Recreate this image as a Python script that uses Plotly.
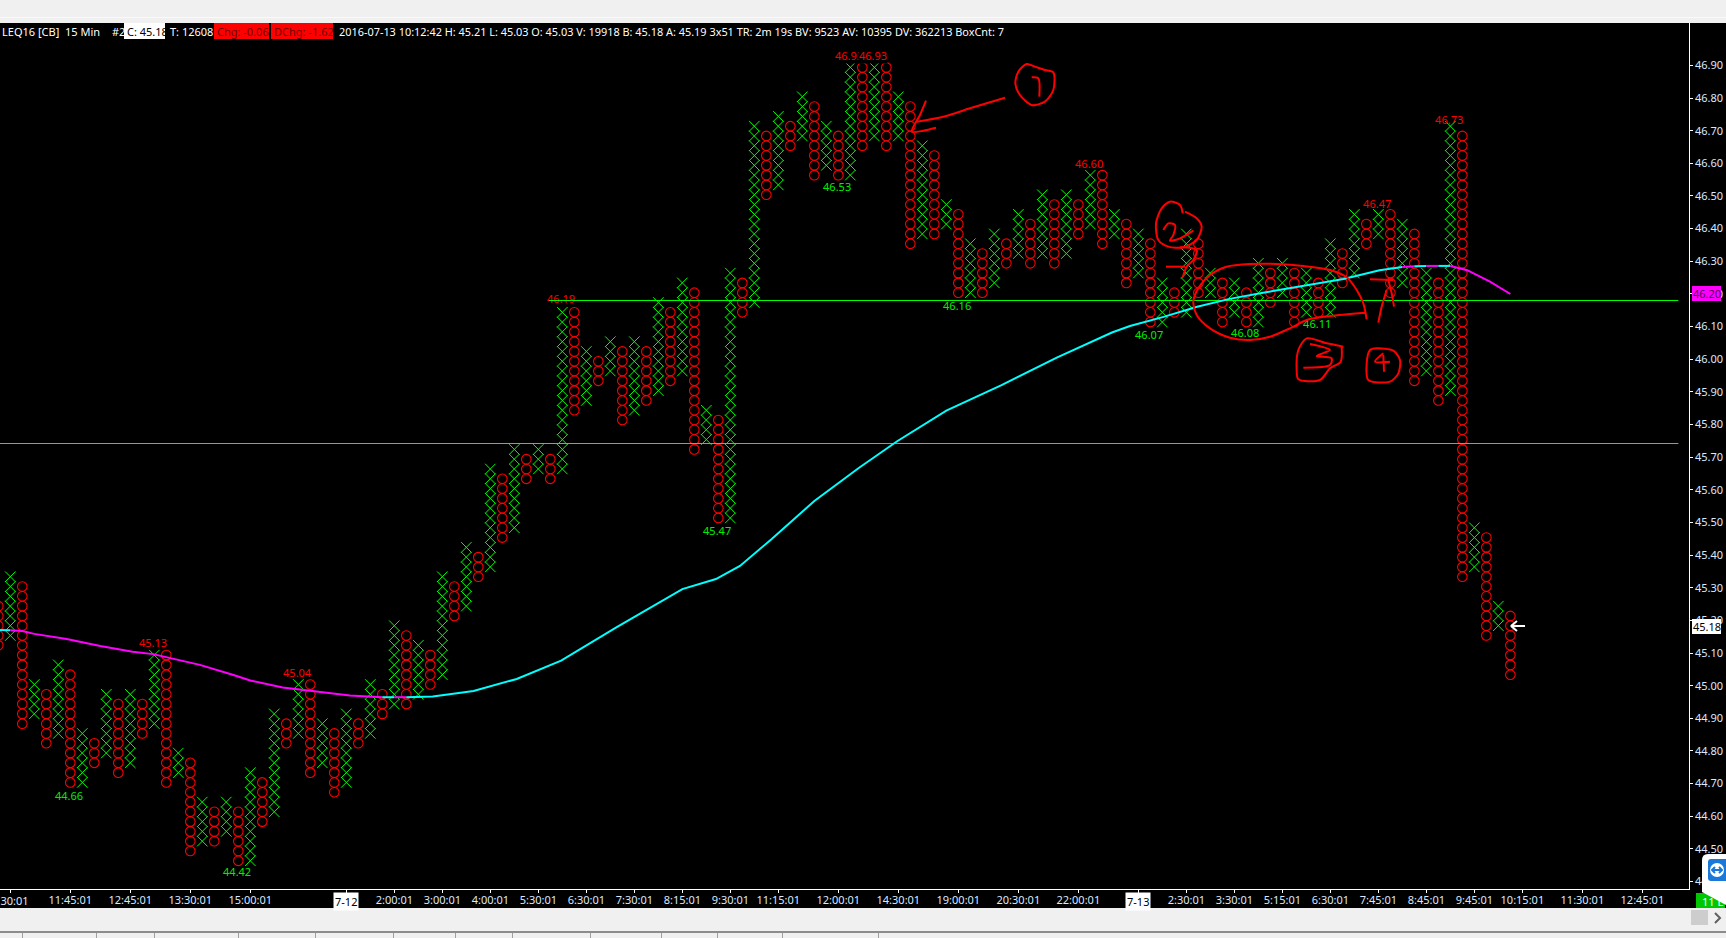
import plotly.graph_objects as go

W, H = 1726, 938
BASE, BOX = 45.03, 0.03
SHIFT = 0.0037

# Point & figure columns, column number = list position - 1 (first column is partly off-screen)
col_top = [7,10,9,-1,-2,1,0,-6,-7,-2,-3,-2,-3,2,2,-8,-9,-13,-14,-13,-14,-10,-11,-4,-5,-1,-1,-5,-6,-4,-5,-1,-2,5,4,3,2,10,
           9,13,12,21,20,23,22,23,22,37,37,33,32,34,33,34,33,38,37,40,39,27,26,41,40,56,55,57,56,59,58,56,55,62,62,62,62,59,58,54,53,48,47,44,43,45,44,47,46,49,48,49,48,51,51,47,46,45,44,40,39,45,44,41,40,40,39,42,41,42,41,41,40,44,43,47,46,47,47,46,45,41,40,56,55,15,14,7,6]
col_bottom = [3,4,-5,-4,-7,-6,-11,-11,-9,-8,-10,-9,-6,-5,-11,-10,-18,-17,-17,-16,-19,-19,-15,-14,-7,-6,-10,-9,-12,-11,-7,-6,-4,-3,-3,-2,-1,0,
              6,7,10,11,14,15,20,21,20,21,27,28,30,31,26,27,28,29,30,31,23,24,16,16,37,38,49,50,54,55,51,52,51,51,54,55,54,55,44,45,45,46,39,39,39,40,42,43,42,43,42,43,45,46,44,45,40,41,36,36,37,37,39,39,36,37,36,36,38,39,36,37,37,37,40,41,44,45,39,40,30,31,28,29,10,11,4,5,0]
col_type = ["O" if i % 2 == 0 else "X" for i in range(len(col_top))]
assert len(col_top) == len(col_bottom) == 127, (len(col_top), len(col_bottom))

label_text = ["45.13","45.04","44.66","44.42","46.19","45.47","46.53","46.60","46.16","46.07","46.08","46.11","46.47","46.73"]
label_col = [12,24,5,19,46,59,69,90,79,95,103,109,114,120]
label_price = [45.127,45.035,44.659,44.426,46.182,45.471,46.524,46.595,46.16,46.07,46.077,46.105,46.47,46.73]
label_up = [1,1,0,0,1,0,0,1,0,0,0,0,1,1]
peak_text = ["46.93","46.93"]
peak_col = [70,72]
peak_price = [46.93,46.93]

ma_col = [-0.86,0,1,2,4.7,7.5,10.2,11.9,15.8,18.6,20,22.7,25.6,28.3,31,32,33,35.2,36.6,38.6,42.2,45.9,50.5,56,58.8,60.8,63.4,67,70.7,73.9,78,82.6,87.2,91.8,93.3,96.1,98.9,101.6,104.4,107.2,111.1,114.1,116,117,118,119,120,121.4,123.3,125]
ma_val = [45.167,45.166,45.164,45.155,45.139,45.118,45.100,45.093,45.060,45.029,45.012,44.991,44.978,44.966,44.961,44.961,44.961,44.963,44.970,44.980,45.017,45.073,45.175,45.292,45.323,45.363,45.444,45.562,45.663,45.745,45.839,45.917,46.001,46.078,46.098,46.126,46.157,46.181,46.200,46.218,46.242,46.269,46.279,46.281,46.282,46.282,46.282,46.269,46.234,46.196]
ma_break_col = [-0.86,0,31,32,33,116,117,118,119,120,125]
ma_break_color = ["#00ffff","#ff00ff","#00ffff","#ff00ff","#00ffff","#ff00ff","#00ffff","#ff00ff","#00ffff","#ff00ff"]

level_price = [46.1798,45.7418]
level_start = [44.9,-0.86]
level_end = 139.0

y_ticks = [44.4+0.1*i for i in range(26)]
x_tick_col = [0,5,10,15,20,28,32,36,40,44,48,52,56,60,64,69,74,79,84,89,94,98,102,106,110,114,118,122,126,131,136]
x_tick_text = ["","11:45:01","12:45:01","13:30:01","15:00:01","","2:00:01","3:00:01","4:00:01","5:30:01","6:30:01","7:30:01","8:15:01","9:30:01","11:15:01","12:00:01","14:30:01","19:00:01","20:30:01","22:00:01","","2:30:01","3:30:01","5:15:01","6:30:01","7:45:01","8:45:01","9:45:01","10:15:01","11:30:01","12:45:01"]
date_col = [28,94]
date_text = ["7-12","7-13"]

header_main = "2016-07-13 10:12:42 H: 45.21 L: 45.03 O: 45.03 V: 19918 B: 45.18 A: 45.19 3x51 TR: 2m 19s BV: 9523 AV: 10395 DV: 362213 BoxCnt: 7"

# Hand-drawn ink, reference pixels
def z4(pts): return [(730+x/3, 40+y/3) for x, y in pts]
def z5(pts): return [(1130+x/3, 190+y/3) for x, y in pts]
ink = [
    z4([(825,173),(720,205),(640,230),(560,245)]),
    z4([(588,182),(570,225),(545,275),(580,272),(618,263)]),
    z4([(890,72),(865,95),(856,130),(870,165),(905,195),(945,185),(970,150),(970,97),(945,90),(915,80),(890,72)]),
    z4([(905,112),(925,115),(928,170)]),
    z5([(158,70),(150,45),(120,35),(95,55),(78,100),(85,150),(115,170),(160,172),(200,150),(215,110),(200,85),(165,65)]),
    z5([(100,120),(115,100),(135,105),(130,135),(120,152),(150,145),(190,122)]),
    z5([(108,230),(165,230)]),
    z5([(150,172),(200,180),(190,210),(170,230),(158,262)]),
    z5([(710,388),(700,340),(680,300),(650,262),(600,240),(520,228),(440,222),(360,222),(290,230),(240,255),(205,295),(190,335),(200,375),(240,415),(300,443),(360,450),(420,440),(480,415),(530,390),(600,378),(705,368)]),
    z5([(720,268),(790,270)]),
    z5([(770,300),(755,350),(745,398)]),
    z5([(775,270),(785,310),(792,350)]),
    z5([(640,470),(590,460),(530,445),(505,480),(500,540),(505,568),(570,570),(600,535),(632,515),(635,470)]),
    z5([(540,462),(600,480),(560,498),(605,505),(600,525),(520,533)]),
    z5([(720,480),(710,520),(715,570),(780,575),(805,550),(810,510),(790,482),(740,475),(720,480)]),
    z5([(760,490),(735,515),(780,515)]),
    z5([(760,495),(762,545)]),
]

FONT = "Noto Sans"
fig = go.Figure()

xs = {"X": [], "O": []}
ys = {"X": [], "O": []}
for i, (t, top, bot) in enumerate(zip(col_type, col_top, col_bottom)):
    for n in range(bot, top + 1):
        xs[t].append(i - 1)
        ys[t].append(BASE + SHIFT + BOX * n)

fig.add_trace(go.Scatter(x=xs["X"], y=ys["X"], mode="markers",
    marker=dict(symbol="x-thin-open", size=10.5, color="#00ff00", line=dict(color="#00ff00", width=1)), showlegend=False))
fig.add_trace(go.Scatter(x=xs["O"], y=ys["O"], mode="markers",
    marker=dict(symbol="circle-open", size=9.6, color="#ff0000", line=dict(color="#ff0000", width=1.1)), showlegend=False))

fig.add_trace(go.Scatter(x=[c - 0.1 for c in label_col], y=label_price, mode="text", text=label_text,
    textposition="middle center",
    textfont=dict(family=FONT, size=11, color=["#ff0000" if u else "#00ee00" for u in label_up]),
    showlegend=False))

for p, s in zip(level_price, level_start):
    fig.add_trace(go.Scatter(x=[s, level_end], y=[p, p], mode="lines",
        line=dict(color="#00ff00", width=1), showlegend=False))

for k, color in enumerate(ma_break_color):
    lo, hi = ma_break_col[k], ma_break_col[k + 1]
    seg = [(c, v + SHIFT) for c, v in zip(ma_col, ma_val) if lo <= c <= hi]
    fig.add_trace(go.Scatter(x=[a for a, _ in seg], y=[b for _, b in seg], mode="lines",
        line=dict(color=color, width=2), showlegend=False))

for stroke in ink:
    fig.add_trace(go.Scatter(x=[p[0] for p in stroke], y=[p[1] for p in stroke], mode="lines",
        xaxis="x2", yaxis="y2", line=dict(color="#ff0000", width=2, shape="spline", smoothing=0.8),
        showlegend=False))

# last-price arrow
fig.add_trace(go.Scatter(x=[1525, 1511, 1517, None, 1511, 1517], y=[626, 626, 621, None, 626, 631],
    mode="lines", xaxis="x2", yaxis="y2", line=dict(color="#ffffff", width=2), showlegend=False))

def rect(x0, y0, x1, y1, color):
    return dict(type="rect", xref="x2", yref="y2", x0=x0, y0=y0, x1=x1, y1=y1,
                fillcolor=color, line=dict(width=0), layer="above")

shapes = [
    rect(0, 0, W, 23, "#f0f0f0"), rect(0, 17, W, 18, "#fafafa"),
    rect(0, 908, W, 938, "#f0f0f0"), rect(0, 931, W, 933, "#8c8c8c"),
    rect(124, 23, 165, 39, "#ffffff"), rect(214, 23, 269, 39, "#ff0000"), rect(271, 23, 333, 39, "#ff0000"),
    rect(1692, 286, 1721, 301, "#ff00ff"), rect(1692, 619, 1721, 634, "#ffffff"),
    rect(1691, 910, 1708, 925, "#cdcdcd"),
    rect(1696, 893, 1725, 908, "#00c800"),
]
for sx in [22, 96, 154, 238, 315, 393, 455, 512, 590, 661, 717, 782, 878]:
    shapes.append(rect(sx, 933, sx + 1, 938, "#a0a0a0"))
shapes += [
    dict(type="path", xref="x2", yref="y2", layer="above", fillcolor="#ffffff", line=dict(width=0),
         path="M1726,854 L1708,854 Q1702,854 1702,860 L1702,892 L1726,905 Z"),
    dict(type="path", xref="x2", yref="y2", layer="above", fillcolor="#1a78d8", line=dict(width=0),
         path="M1726,859 L1711,859 Q1708,859 1708,862 L1708,878 Q1708,881 1711,881 L1726,881 Z"),
    dict(type="circle", xref="x2", yref="y2", layer="above", x0=1710, y0=863, x1=1724, y1=877,
         fillcolor="#ffffff", line=dict(width=0)),
    dict(type="path", xref="x2", yref="y2", layer="above", line=dict(color="#1a78d8", width=2),
         path="M1712,870 L1722,870 M1715,867 L1712,870 L1715,873 M1719,867 L1722,870 L1719,873"),
    dict(type="path", xref="x2", yref="y2", layer="above", line=dict(color="#606060", width=2),
         path="M1715,913 L1720,918 L1715,923"),
]

def txt(x, y, s, color="#ffffff", anchor="left", size=11):
    return dict(xref="x2", yref="y2", x=x, y=y, text=s, showarrow=False, xanchor=anchor, yanchor="middle",
                font=dict(family=FONT, size=size, color=color))

annotations = [
    txt(0, 31, "LEQ16 [CB]"), txt(63, 31, "15 Min"), txt(110, 31, "#2"),
    txt(125, 31, "C: 45.18", "#000000"), txt(168, 31, "T: 12608"),
    txt(215, 31, "Chg: -0.06", "#700000"), txt(272, 31, "DChg: -1.62", "#700000"),
    txt(337, 31, header_main, size=10.9),
    txt(1706.5, 293.5, "46.20", "#500050", "center"),
    txt(1706.5, 626.5, "45.18", "#000000", "center"),
    txt(1700, 901, "11 L", "#ffffff"),
    txt(31, 900.5, "10:30:01", "#dce8ff", "right"),
]
for c, d in zip(date_col, date_text):
    annotations.append(dict(xref="x", yref="y2", x=c, y=901, text=d, showarrow=False, bgcolor="#ffffff",
                            borderpad=1, font=dict(family=FONT, size=11, color="#000000")))
for k, (c, p, s) in enumerate(zip(peak_col, peak_price, peak_text)):
    annotations.append(dict(xref="x", yref="y", x=c - 0.1, y=p, text=s, showarrow=False,
                            bgcolor="#000000", borderpad=0,
                            font=dict(family=FONT, size=11, color="#ff0000")))

fig.update_layout(
    width=W, height=H, margin=dict(l=0, r=0, t=0, b=0), paper_bgcolor="#000000", plot_bgcolor="rgba(0,0,0,0)",
    showlegend=False, shapes=shapes, annotations=annotations, hovermode=False,
    xaxis=dict(domain=[0, 1688.7 / W], range=[-0.858, 139.86], showgrid=False, zeroline=False,
               tickmode="array", tickvals=x_tick_col, ticktext=x_tick_text, ticks="outside", ticklen=3,
               tickcolor="#ffffff", showline=True, linecolor="#ffffff", linewidth=1, ticklabelstandoff=-2,
               tickfont=dict(family=FONT, size=11, color="#dce8ff"), anchor="y"),
    yaxis=dict(domain=[(H - 889) / H, (H - 23) / H], range=[44.3773, 47.0297], side="right", showgrid=False,
               zeroline=False, tickmode="array", tickvals=y_ticks, ticktext=[f"{v:.2f}" for v in y_ticks],
               ticks="outside", ticklen=3, tickcolor="#ffffff", showline=True, linecolor="#ffffff", linewidth=1,
               tickfont=dict(family=FONT, size=11, color="#dce8ff"), anchor="x"),
    xaxis2=dict(domain=[0, 1], range=[0, W], visible=False, anchor="y2"),
    yaxis2=dict(domain=[0, 1], range=[H, 0], visible=False, anchor="x2"),
)

fig.write_html("out.html", config={"displayModeBar": False},
               post_script="document.body.style.margin='0';document.body.style.overflow='hidden';")
